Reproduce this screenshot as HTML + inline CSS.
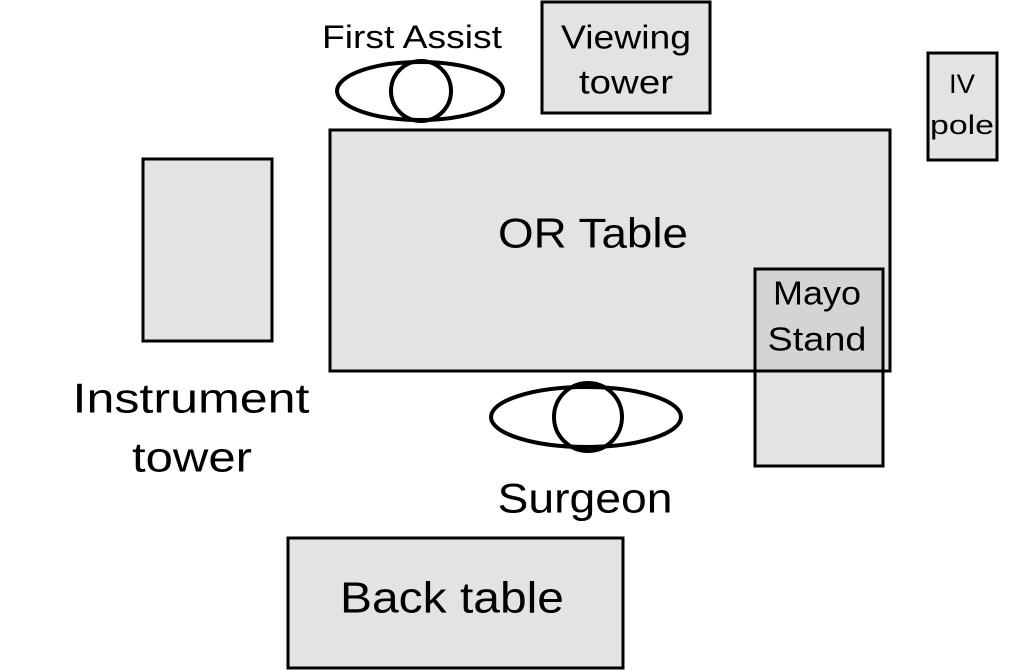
<!DOCTYPE html>
<html><head><style>body{margin:0;background:#fff}svg{display:block}text{font-family:"Liberation Sans",sans-serif;fill:#000;text-anchor:middle;dominant-baseline:central}</style></head>
<body>
<svg width="1017" height="670" viewBox="0 0 1017 670">
<g stroke="#000" stroke-width="3">
<rect x="330" y="130" width="560" height="241" fill="#e3e3e3"/>
<rect x="755" y="269" width="128" height="197" fill="#e3e3e3"/>
<rect x="755" y="269" width="128" height="102" fill="#d4d4d4"/>
<line x1="330" y1="371" x2="890" y2="371"/>
<line x1="890" y1="130" x2="890" y2="371"/>
<rect x="143" y="159" width="129" height="182" fill="#e3e3e3"/>
<rect x="542" y="2" width="168" height="111" fill="#e3e3e3"/>
<rect x="928" y="53" width="69" height="107" fill="#e3e3e3"/>
<rect x="288" y="538" width="335" height="130" fill="#e3e3e3"/>
<ellipse cx="420" cy="91" rx="83" ry="29" fill="none" stroke-width="4"/>
<circle cx="421" cy="91" r="30" fill="none" stroke-width="4"/>
<ellipse cx="586" cy="417" rx="95" ry="30" fill="none" stroke-width="4"/>
<circle cx="588" cy="417" r="34" fill="none" stroke-width="4"/>
</g>
<text x="593" y="233" font-size="42" textLength="190" lengthAdjust="spacingAndGlyphs">OR Table</text>
<text x="191" y="398" font-size="42" textLength="237" lengthAdjust="spacingAndGlyphs">Instrument</text>
<text x="192" y="457" font-size="42" textLength="120" lengthAdjust="spacingAndGlyphs">tower</text>
<text x="585" y="498" font-size="42" textLength="175" lengthAdjust="spacingAndGlyphs">Surgeon</text>
<text x="452" y="598" font-size="44" textLength="224" lengthAdjust="spacingAndGlyphs">Back table</text>
<text x="412" y="37" font-size="32" textLength="180" lengthAdjust="spacingAndGlyphs">First Assist</text>
<text x="626" y="37" font-size="33" textLength="130" lengthAdjust="spacingAndGlyphs">Viewing</text>
<text x="626" y="82" font-size="33" textLength="94" lengthAdjust="spacingAndGlyphs">tower</text>
<text x="817" y="293" font-size="33" textLength="88" lengthAdjust="spacingAndGlyphs">Mayo</text>
<text x="817" y="339" font-size="33" textLength="99" lengthAdjust="spacingAndGlyphs">Stand</text>
<text x="962" y="84" font-size="27" textLength="26" lengthAdjust="spacingAndGlyphs">IV</text>
<text x="962" y="125" font-size="27" textLength="64" lengthAdjust="spacingAndGlyphs">pole</text>
</svg>
</body></html>
